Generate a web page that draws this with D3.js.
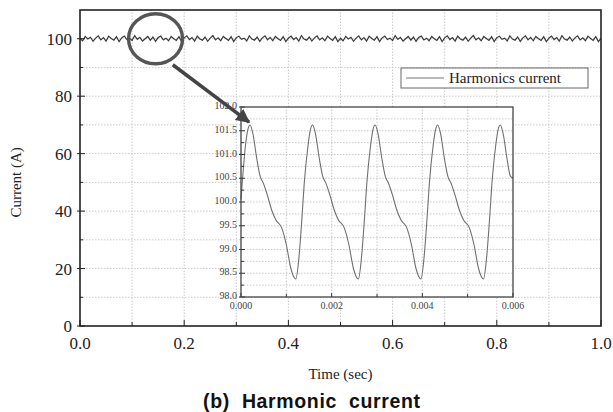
<!DOCTYPE html>
<html>
<head>
<meta charset="utf-8">
<script src="https://cdn.jsdelivr.net/npm/d3@7"></script>
<style>
  body { margin: 0; background: #fff; }
  svg text { font-family: "Liberation Serif", "DejaVu Serif", serif; fill: #222; }
  .grid line { stroke: #bdbdbd; stroke-width: 0.8; stroke-dasharray: 1.5,1.5; }
  .caption { font-family: "Liberation Sans", Arial, sans-serif !important; font-weight: bold; white-space: pre; }
</style>
</head>
<body>
<div id="chart"></div>
<script>
// main trace, one value every 0.005 s from 0 to 1.0 s
var mainStep = 0.005;
var mainValues = [
  100.1, 99.3, 100.8, 99.9, 100.5, 99.1, 100.2, 101.0, 99.6, 100.4,
  99.2, 100.9, 100.1, 99.5, 100.7, 99.0, 100.3, 100.9, 99.7, 100.2,
  99.4, 101.1, 99.8, 100.5, 99.2, 100.0, 100.8, 99.5, 100.6, 99.1,
  100.4, 100.9, 99.6, 100.2, 99.3, 100.8, 100.0, 99.4, 100.7, 99.0,
  100.3, 101.0, 99.7, 100.4, 99.2, 100.9, 99.9, 99.5, 100.6, 99.1,
  100.2, 101.1, 99.6, 100.3, 99.3, 100.8, 100.1, 99.4, 100.7, 99.0,
  100.4, 100.9, 99.8, 100.2, 99.2, 101.0, 99.9, 99.5, 100.6, 99.1,
  100.3, 101.0, 99.6, 100.5, 99.3, 100.8, 100.0, 99.4, 100.7, 99.0,
  100.2, 100.9, 99.7, 100.4, 99.2, 101.1, 99.9, 99.5, 100.6, 99.2,
  100.3, 101.0, 99.6, 100.3, 99.3, 100.9, 100.1, 99.4, 100.7, 99.0,
  100.1, 99.3, 100.8, 99.9, 100.5, 99.1, 100.2, 101.0, 99.6, 100.4,
  99.2, 100.9, 100.1, 99.5, 100.7, 99.0, 100.3, 100.9, 99.7, 100.2,
  99.4, 101.1, 99.8, 100.5, 99.2, 100.0, 100.8, 99.5, 100.6, 99.1,
  100.4, 100.9, 99.6, 100.2, 99.3, 100.8, 100.0, 99.4, 100.7, 99.0,
  100.3, 101.0, 99.7, 100.4, 99.2, 100.9, 99.9, 99.5, 100.6, 99.1,
  100.2, 101.1, 99.6, 100.3, 99.3, 100.8, 100.1, 99.4, 100.7, 99.0,
  100.4, 100.9, 99.8, 100.2, 99.2, 101.0, 99.9, 99.5, 100.6, 99.1,
  100.3, 101.0, 99.6, 100.5, 99.3, 100.8, 100.0, 99.4, 100.7, 99.0,
  100.2, 100.9, 99.7, 100.4, 99.2, 101.1, 99.9, 99.5, 100.6, 99.2,
  100.3, 101.0, 99.6, 100.3, 99.3, 100.9, 100.1, 99.4, 100.7, 99.0,
  100.1
];

// zoomed trace (inset), time in s and current in A
var zoomTimes = [
  0.00000, 0.00010, 0.00015, 0.00020, 0.00026, 0.00035, 0.00042, 0.00050, 0.00058, 0.00068,
  0.00077, 0.00090, 0.00100, 0.00110, 0.00121,
  0.00128, 0.00134, 0.00140, 0.00148, 0.00153, 0.00158, 0.00164, 0.00173, 0.00180, 0.00188,
  0.00196, 0.00206, 0.00215, 0.00228, 0.00238, 0.00248, 0.00259,
  0.00266, 0.00272, 0.00278, 0.00286, 0.00291, 0.00296, 0.00302, 0.00311, 0.00318, 0.00326,
  0.00334, 0.00344, 0.00353, 0.00366, 0.00376, 0.00386, 0.00397,
  0.00404, 0.00410, 0.00416, 0.00424, 0.00429, 0.00434, 0.00440, 0.00449, 0.00456, 0.00464,
  0.00472, 0.00482, 0.00491, 0.00504, 0.00514, 0.00524, 0.00535,
  0.00542, 0.00548, 0.00554, 0.00562, 0.00567, 0.00572, 0.00578, 0.00587, 0.00594, 0.00600
];
var zoomValues = [
  100.05, 101.20, 101.52, 101.62, 101.45, 100.90, 100.55, 100.38, 100.15, 99.82,
  99.62, 99.45, 99.10, 98.60, 98.38,
  98.85, 99.60, 100.45, 101.20, 101.52, 101.62, 101.45, 100.90, 100.55, 100.38,
  100.15, 99.82, 99.62, 99.45, 99.10, 98.60, 98.38,
  98.85, 99.60, 100.45, 101.20, 101.52, 101.62, 101.45, 100.90, 100.55, 100.38,
  100.15, 99.82, 99.62, 99.45, 99.10, 98.60, 98.38,
  98.85, 99.60, 100.45, 101.20, 101.52, 101.62, 101.45, 100.90, 100.55, 100.38,
  100.15, 99.82, 99.62, 99.45, 99.10, 98.60, 98.38,
  98.85, 99.60, 100.45, 101.20, 101.52, 101.62, 101.45, 100.90, 100.55, 100.50
];

var xTicks = [0, 0.2, 0.4, 0.6, 0.8, 1.0];
var yTicks = [0, 20, 40, 60, 80, 100];
var zoomXTicks = [0, 0.002, 0.004, 0.006];
var zoomYTicks = [98.0, 98.5, 99.0, 99.5, 100.0, 100.5, 101.0, 101.5, 102.0];

var W = 613, H = 412;
var svg = d3.select("#chart").append("svg")
    .attr("width", W)
    .attr("height", H);

// main axes
var x = d3.scaleLinear().domain([0, 1]).range([80, 601]);
var y = d3.scaleLinear().domain([0, 110]).range([326, 10]);

var grid = svg.append("g").attr("class", "grid");
grid.selectAll(".gx")
    .data(d3.range(1, 10).map(function (i) { return i / 10; }))
    .enter().append("line")
    .attr("x1", function (d) { return x(d); })
    .attr("x2", function (d) { return x(d); })
    .attr("y1", y(0)).attr("y2", y(110));
grid.selectAll(".gy")
    .data(d3.range(1, 11).map(function (i) { return i * 10; }))
    .enter().append("line")
    .attr("y1", function (d) { return y(d); })
    .attr("y2", function (d) { return y(d); })
    .attr("x1", x(0)).attr("x2", x(1));

var mainLine = d3.line()
    .x(function (d, i) { return x(i * mainStep); })
    .y(function (d) { return y(d); });

svg.append("path")
    .datum(mainValues)
    .attr("d", mainLine)
    .attr("fill", "none")
    .attr("stroke", "#3a3a3a")
    .attr("stroke-width", 1.2);

// ticks, pointing inwards
var xMinor = d3.range(0, 11).map(function (i) { return i / 10; });
svg.append("g").selectAll("line")
    .data(xMinor)
    .enter().append("line")
    .attr("x1", function (d) { return x(d); })
    .attr("x2", function (d) { return x(d); })
    .attr("y1", y(0))
    .attr("y2", function (d, i) { return y(0) - (i % 2 === 0 ? 6 : 4); })
    .attr("stroke", "#222");
var yMinor = d3.range(0, 11).map(function (i) { return i * 10; });
svg.append("g").selectAll("line")
    .data(yMinor)
    .enter().append("line")
    .attr("y1", function (d) { return y(d); })
    .attr("y2", function (d) { return y(d); })
    .attr("x1", function (d, i) { return x(0) - (i % 2 === 0 ? 3 : 0); })
    .attr("x2", function (d, i) { return x(0) + (i % 2 === 0 ? 5 : 3); })
    .attr("stroke", "#222");

svg.append("g").selectAll("text")
    .data(xTicks)
    .enter().append("text")
    .attr("x", function (d) { return x(d); })
    .attr("y", 349)
    .attr("text-anchor", "middle")
    .style("font-size", "17px")
    .text(d3.format(".1f"));
svg.append("g").selectAll("text")
    .data(yTicks)
    .enter().append("text")
    .attr("x", 72)
    .attr("y", function (d) { return y(d) + 6; })
    .attr("text-anchor", "end")
    .style("font-size", "17px")
    .text(function (d) { return d; });

svg.append("rect")
    .attr("x", x(0)).attr("y", y(110))
    .attr("width", x(1) - x(0)).attr("height", y(0) - y(110))
    .attr("fill", "none")
    .attr("stroke", "#222")
    .attr("stroke-width", 1.6);

svg.append("text")
    .attr("x", x(0.5))
    .attr("y", 379)
    .attr("text-anchor", "middle")
    .style("font-size", "15px")
    .text("Time (sec)");
svg.append("text")
    .attr("transform", "translate(21," + y(50) + ") rotate(-90)")
    .attr("text-anchor", "middle")
    .style("font-size", "15px")
    .text("Current (A)");

svg.append("text")
    .attr("class", "caption")
    .attr("x", 203)
    .attr("y", 408)
    .attr("textLength", 217)
    .attr("lengthAdjust", "spacing")
    .style("font-size", "19.5px")
    .style("fill", "#111")
    .text("(b)  Harmonic  current");

// legend
var legend = svg.append("g");
legend.append("rect")
    .attr("x", 401).attr("y", 68)
    .attr("width", 187).attr("height", 20)
    .attr("fill", "#fff")
    .attr("stroke", "#666");
legend.append("line")
    .attr("x1", 406).attr("x2", 444)
    .attr("y1", 78).attr("y2", 78)
    .attr("stroke", "#777");
legend.append("text")
    .attr("x", 449).attr("y", 83)
    .style("font-size", "15px")
    .text("Harmonics current");

// inset
var zx = d3.scaleLinear().domain([0, 0.006]).range([241, 513]);
var zy = d3.scaleLinear().domain([98, 102]).range([297, 107]);

svg.append("rect")
    .attr("x", zx(0)).attr("y", zy(102))
    .attr("width", zx(0.006) - zx(0)).attr("height", zy(98) - zy(102))
    .attr("fill", "#fff");

var zgrid = svg.append("g").attr("class", "grid");
zgrid.selectAll(".zgx")
    .data([0.001, 0.002, 0.003, 0.004, 0.005])
    .enter().append("line")
    .attr("x1", function (d) { return zx(d); })
    .attr("x2", function (d) { return zx(d); })
    .attr("y1", zy(98)).attr("y2", zy(102));
zgrid.selectAll(".zgy")
    .data(d3.range(1, 16).map(function (i) { return 98 + i * 0.25; }))
    .enter().append("line")
    .attr("y1", function (d) { return zy(d); })
    .attr("y2", function (d) { return zy(d); })
    .attr("x1", zx(0)).attr("x2", zx(0.006));

var zoomLine = d3.line()
    .x(function (d, i) { return zx(zoomTimes[i]); })
    .y(function (d) { return zy(d); })
    .curve(d3.curveMonotoneX);

svg.append("path")
    .datum(zoomValues)
    .attr("d", zoomLine)
    .attr("fill", "none")
    .attr("stroke", "#707070")
    .attr("stroke-width", 1.1);

svg.append("g").selectAll("line")
    .data(d3.range(0, 7).map(function (i) { return i * 0.001; }))
    .enter().append("line")
    .attr("x1", function (d) { return zx(d); })
    .attr("x2", function (d) { return zx(d); })
    .attr("y1", zy(98))
    .attr("y2", function (d, i) { return zy(98) - (i % 2 === 0 ? 4 : 3); })
    .attr("stroke", "#333");
svg.append("g").selectAll("line")
    .data(d3.range(0, 17).map(function (i) { return 98 + i * 0.25; }))
    .enter().append("line")
    .attr("y1", function (d) { return zy(d); })
    .attr("y2", function (d) { return zy(d); })
    .attr("x1", function (d, i) { return zx(0) - (i % 2 === 0 ? 2 : 0); })
    .attr("x2", function (d, i) { return zx(0) + (i % 2 === 0 ? 4 : 3); })
    .attr("stroke", "#333");

svg.append("rect")
    .attr("x", zx(0)).attr("y", zy(102))
    .attr("width", zx(0.006) - zx(0)).attr("height", zy(98) - zy(102))
    .attr("fill", "none")
    .attr("stroke", "#444")
    .attr("stroke-width", 1.3);

svg.append("g").selectAll("text")
    .data(zoomYTicks)
    .enter().append("text")
    .attr("x", zx(0) - 4)
    .attr("y", function (d) { return zy(d) + 2; })
    .attr("text-anchor", "end")
    .style("font-size", "10px")
    .style("fill", "#444")
    .text(d3.format(".1f"));
svg.append("g").selectAll("text")
    .data(zoomXTicks)
    .enter().append("text")
    .attr("x", function (d) { return zx(d); })
    .attr("y", zy(98) + 12)
    .attr("text-anchor", "middle")
    .style("font-size", "10px")
    .style("fill", "#444")
    .text(d3.format(".3f"));

// circle around the zoomed region and arrow to the inset
svg.append("ellipse")
    .attr("cx", x(0.145)).attr("cy", y(100))
    .attr("rx", 27).attr("ry", 25)
    .attr("fill", "none")
    .attr("stroke", "#555")
    .attr("stroke-width", 3.4);

svg.append("defs").append("marker")
    .attr("id", "head")
    .attr("viewBox", "0 0 10 10")
    .attr("refX", 9).attr("refY", 5)
    .attr("markerWidth", 4).attr("markerHeight", 4)
    .attr("orient", "auto")
    .append("path")
    .attr("d", "M0,0L10,5L0,10z")
    .attr("fill", "#444");

svg.append("line")
    .attr("x1", x(0.178)).attr("y1", y(100) + 26)
    .attr("x2", zx(0.0002) - 1).attr("y2", zy(101.62) - 3)
    .attr("stroke", "#444")
    .attr("stroke-width", 3.5)
    .attr("marker-end", "url(#head)");
</script>
</body>
</html>
